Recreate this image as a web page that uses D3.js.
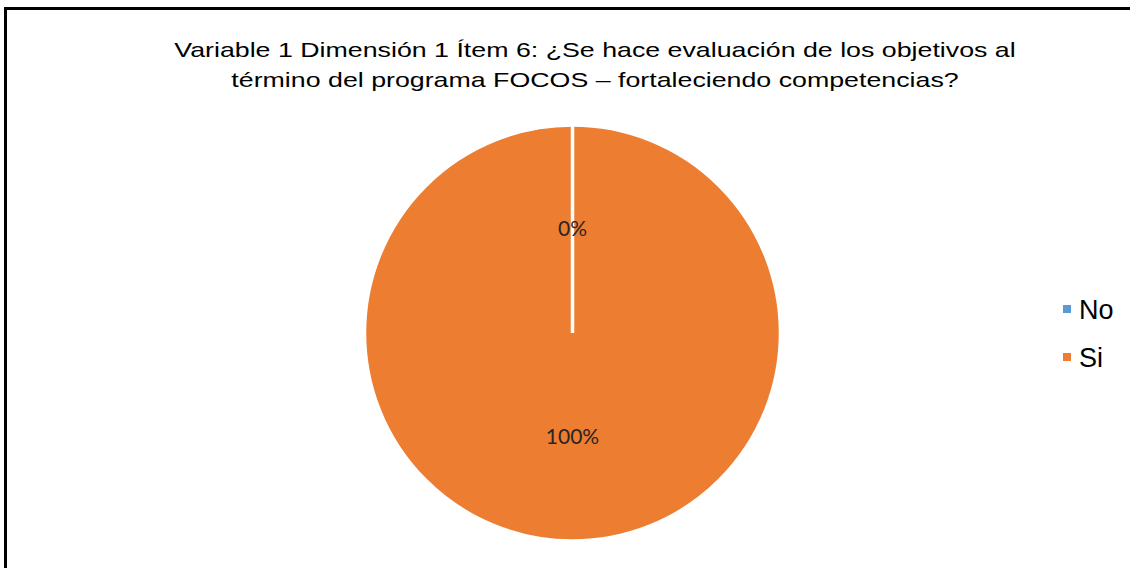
<!DOCTYPE html>
<html>
<head>
<meta charset="utf-8">
<script src="https://cdn.jsdelivr.net/npm/d3@7"></script>
<style>
  body { margin: 0; background: #fff; }
</style>
</head>
<body>
<div id="chart"></div>
<script>
// data
const categories = ["No", "Si"];
const values = [0, 100];
const labels = ["0%", "100%"];
const titleLines = [
  "Variable 1 Dimensión 1 Ítem 6: ¿Se hace evaluación de los objetivos al",
  "término del programa FOCOS – fortaleciendo competencias?"
];
const colors = ["#5B9BD5", "#ED7D31"];

var svgWidth = 1130;
var svgHeight = 568;

var svg = d3.select("#chart")
  .append("svg")
  .attr("width", svgWidth)
  .attr("height", svgHeight);

// frame (only top and left edges show)
svg.append("path")
  .attr("d", "M5.5,570 L5.5,8.5 L1132,8.5")
  .attr("fill", "none")
  .attr("stroke", "#000")
  .attr("stroke-width", 3);

// title (text in the original is stretched wide)
svg.append("g")
  .attr("transform", "translate(595, 0) scale(1.275, 1)")
  .append("text")
  .attr("text-anchor", "middle")
  .attr("font-family", "Liberation Sans, Arial, sans-serif")
  .attr("font-size", "21px")
  .attr("fill", "#000")
  .selectAll("tspan")
  .data(titleLines)
  .enter()
  .append("tspan")
  .attr("x", 0)
  .attr("y", (d, i) => 57 + i * 30)
  .text(d => d);

// pie
var cx = 572.5, cy = 333, radius = 208;

var pie = d3.pie().sort(null).value(d => d);
var arc = d3.arc().innerRadius(0).outerRadius(radius);
var labelArc = d3.arc().innerRadius(radius / 2).outerRadius(radius / 2);

var pieGroup = svg.append("g")
  .attr("transform", `translate(${cx}, ${cy})`);

var slices = pie(values);

// draw the big slice first so the empty slice's white edge sits on top
pieGroup.selectAll("path")
  .data(slices.slice().reverse())
  .enter()
  .append("path")
  .attr("d", arc)
  .attr("fill", d => colors[d.index])
  .attr("stroke", "#fff")
  .attr("stroke-width", 3.5);

pieGroup.selectAll("text.lbl")
  .data(slices)
  .enter()
  .append("text")
  .attr("class", "lbl")
  .attr("transform", d => {
    var c = labelArc.centroid(d);
    return `translate(${c[0]}, ${c[1]})`;
  })
  .attr("dy", "0.35em")
  .attr("text-anchor", "middle")
  .attr("font-family", "Lato, Carlito, sans-serif")
  .attr("font-size", "21px")
  .attr("fill", "#262626")
  .text((d, i) => labels[i]);

// legend
var legend = svg.append("g")
  .attr("transform", "translate(1063, 309)");

var items = legend.selectAll("g")
  .data(categories)
  .enter()
  .append("g")
  .attr("transform", (d, i) => `translate(0, ${i * 48})`);

items.append("rect")
  .attr("x", 0)
  .attr("y", -4)
  .attr("width", 8)
  .attr("height", 8)
  .attr("fill", (d, i) => colors[i]);

items.append("text")
  .attr("x", 16)
  .attr("y", 9.5)
  .attr("font-family", "Liberation Sans, Arial, sans-serif")
  .attr("font-size", "27px")
  .attr("fill", "#000")
  .text(d => d);
</script>
</body>
</html>
